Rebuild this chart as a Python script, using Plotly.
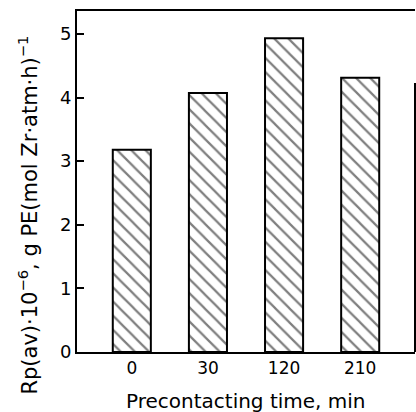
import plotly.graph_objects as go

categories = ["0", "30", "120", "210"]
values = [3.18, 4.07, 4.93, 4.31]
y_ticks = [0, 1, 2, 3, 4, 5]

FONT = "DejaVu Sans"

fig = go.Figure()
fig.add_trace(go.Bar(
    x=categories, y=values, width=0.5,
    marker=dict(color="white",
                line=dict(color="black", width=2),
                pattern=dict(shape="\\", fgcolor="black", bgcolor="white",
                             size=10, solidity=0.22)),
    showlegend=False,
))

fig.update_layout(
    width=416, height=412,
    margin=dict(l=77, r=1, t=11, b=60),
    paper_bgcolor="white", plot_bgcolor="white",
    font=dict(family=FONT, size=18, color="black"),
    xaxis=dict(type="category", range=[-0.72, 3.72], showline=True, linecolor="black",
               linewidth=2, mirror=True, ticks="", showgrid=False, zeroline=False,
               tickfont=dict(size=17, family=FONT)),
    yaxis=dict(range=[0, 5.36], tickvals=y_ticks, showline=True, linecolor="black",
               linewidth=2, ticks="inside", ticklen=7, tickwidth=2, tickcolor="black",
               showgrid=False, zeroline=False, tickfont=dict(size=18, family=FONT)),
)

# partial right frame line
fig.add_shape(type="line", xref="paper", yref="y", x0=1, x1=1, y0=0, y1=4.23,
              line=dict(color="black", width=2))

fig.add_annotation(text="Precontacting time, min", xref="paper", yref="paper",
                   x=0.5, y=-0.143, yanchor="middle", showarrow=False,
                   font=dict(size=20, family=FONT))
fig.add_annotation(text="Rp(av)·10<sup>−6</sup>, g PE(mol Zr·atm·h)<sup>−1</sup>",
                   xref="paper", yref="paper", x=0, xshift=-49, y=0.40,
                   xanchor="center", yanchor="middle", textangle=-90, showarrow=False,
                   font=dict(size=21, family=FONT))

fig.write_html("out.html")
